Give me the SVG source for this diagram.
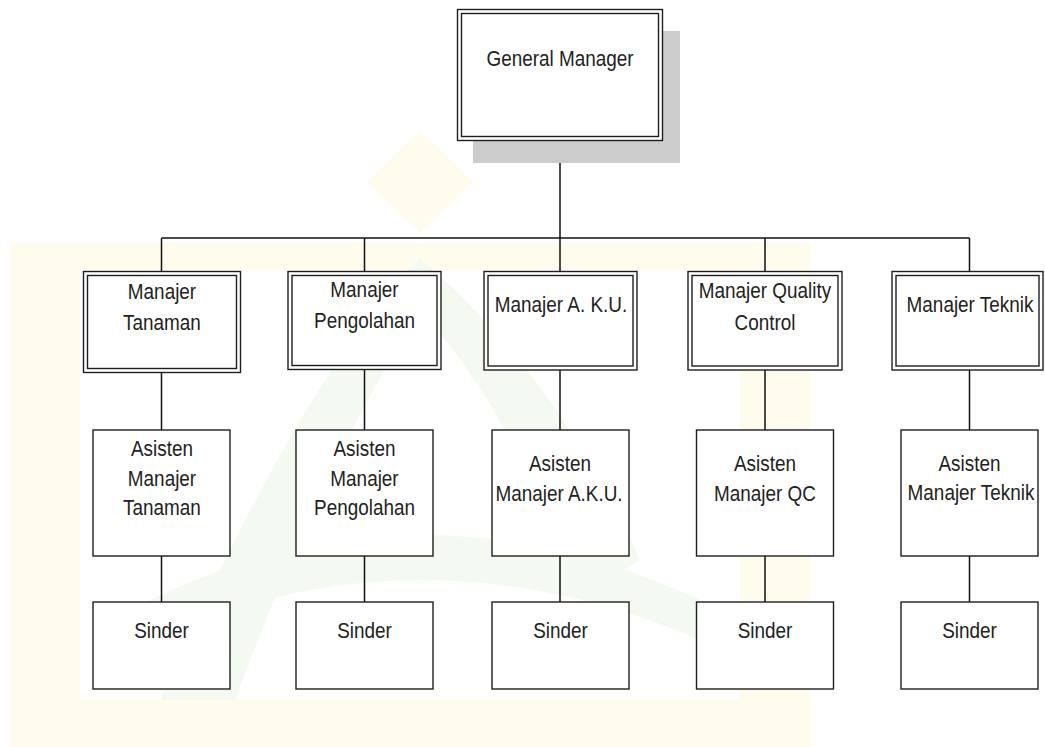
<svg xmlns="http://www.w3.org/2000/svg" width="1045" height="747" viewBox="0 0 1045 747">
<style>
.bx{fill:#fff;stroke:#1e1e1e;stroke-width:1.4}
.in{fill:none;stroke:#1e1e1e;stroke-width:1.4}
.t{font-family:"Liberation Sans",Arial,sans-serif;font-size:22px;fill:#222;text-anchor:middle}
.con{stroke:#111;stroke-width:1.5;fill:none}
.wy{fill:#fffcee}
.wg{fill:#f4f9f1}
</style>
<rect width="1045" height="747" fill="#fff"/>
<g id="watermark">
<path class="wy" d="M10,243H810V747H10Z M80,270V700H740V270Z" fill-rule="evenodd"/>
<polygon class="wy" points="420,131 473,182 420,233 367,182"/>
<path class="wg" d="M420,258 Q300,380 160,700 L235,700 Q320,470 420,310 Q520,420 575,600 L640,560 Q560,380 420,258Z"/>
<path class="wg" d="M150,600 Q420,470 700,600 L700,640 Q420,520 150,640Z"/>
</g>
<g id="connectors">
<line class="con" x1="560" y1="141" x2="560" y2="238"/>
<line class="con" x1="161.5" y1="238" x2="969.5" y2="238"/>
<line class="con" x1="161.5" y1="238" x2="161.5" y2="272"/>
<line class="con" x1="364.5" y1="238" x2="364.5" y2="272"/>
<line class="con" x1="560" y1="238" x2="560" y2="272"/>
<line class="con" x1="765" y1="238" x2="765" y2="272"/>
<line class="con" x1="969.5" y1="238" x2="969.5" y2="272"/>
<line class="con" x1="161.5" y1="372" x2="161.5" y2="430"/>
<line class="con" x1="364.5" y1="369" x2="364.5" y2="430"/>
<line class="con" x1="560" y1="370" x2="560" y2="430"/>
<line class="con" x1="765" y1="370" x2="765" y2="430"/>
<line class="con" x1="969.5" y1="370" x2="969.5" y2="430"/>
<line class="con" x1="161.5" y1="556" x2="161.5" y2="602"/>
<line class="con" x1="364.5" y1="556" x2="364.5" y2="602"/>
<line class="con" x1="560" y1="556" x2="560" y2="602"/>
<line class="con" x1="765" y1="556" x2="765" y2="602"/>
<line class="con" x1="969.5" y1="556" x2="969.5" y2="602"/>
</g>
<g id="gm">
<rect x="473" y="31" width="207" height="132" fill="#cccccc"/>
<rect class="bx" x="457.5" y="9.5" width="205" height="131"/>
<rect class="in" x="461.5" y="13.5" width="197" height="123"/>
<text class="t" transform="translate(560 66) scale(0.86 1)">General Manager</text>
</g>
<g id="mgr-tanaman">
<rect class="bx" x="83.5" y="271.5" width="157" height="101"/>
<rect class="in" x="87.5" y="275.5" width="149" height="93"/>
<text class="t" transform="translate(162 299) scale(0.86 1)">Manajer</text>
<text class="t" transform="translate(162 330) scale(0.86 1)">Tanaman</text>
</g>
<g id="mgr-pengolahan">
<rect class="bx" x="288" y="271.5" width="153" height="98"/>
<rect class="in" x="292" y="275.5" width="145" height="90"/>
<text class="t" transform="translate(364.5 297) scale(0.86 1)">Manajer</text>
<text class="t" transform="translate(364.5 328) scale(0.86 1)">Pengolahan</text>
</g>
<g id="mgr-aku">
<rect class="bx" x="484" y="271.5" width="153" height="98.5"/>
<rect class="in" x="488" y="275.5" width="145" height="90.5"/>
<text class="t" transform="translate(561 312) scale(0.86 1)">Manajer A. K.U.</text>
</g>
<g id="mgr-qc">
<rect class="bx" x="688" y="271.5" width="154" height="98.5"/>
<rect class="in" x="692" y="275.5" width="146" height="90.5"/>
<text class="t" transform="translate(765 298) scale(0.86 1)">Manajer Quality</text>
<text class="t" transform="translate(765 329.5) scale(0.86 1)">Control</text>
</g>
<g id="mgr-teknik">
<rect class="bx" x="892" y="271.5" width="151" height="98.5"/>
<rect class="in" x="896" y="275.5" width="143" height="90.5"/>
<text class="t" transform="translate(970 312) scale(0.86 1)">Manajer Teknik</text>
</g>
<g id="ast-tanaman">
<rect class="bx" x="93" y="430" width="137" height="126"/>
<text class="t" transform="translate(162 456) scale(0.86 1)">Asisten</text>
<text class="t" transform="translate(162 486) scale(0.86 1)">Manajer</text>
<text class="t" transform="translate(162 515) scale(0.86 1)">Tanaman</text>
</g>
<g id="ast-pengolahan">
<rect class="bx" x="296" y="430" width="137" height="126"/>
<text class="t" transform="translate(364.5 456) scale(0.86 1)">Asisten</text>
<text class="t" transform="translate(364.5 486) scale(0.86 1)">Manajer</text>
<text class="t" transform="translate(364.5 515) scale(0.86 1)">Pengolahan</text>
</g>
<g id="ast-aku">
<rect class="bx" x="492" y="430" width="137" height="126"/>
<text class="t" transform="translate(560 471) scale(0.86 1)">Asisten</text>
<text class="t" transform="translate(559 501) scale(0.86 1)">Manajer A.K.U.</text>
</g>
<g id="ast-qc">
<rect class="bx" x="696.5" y="430" width="137" height="126"/>
<text class="t" transform="translate(765 471) scale(0.86 1)">Asisten</text>
<text class="t" transform="translate(765 501) scale(0.86 1)">Manajer QC</text>
</g>
<g id="ast-teknik">
<rect class="bx" x="901" y="430" width="137" height="126"/>
<text class="t" transform="translate(969.5 471) scale(0.86 1)">Asisten</text>
<text class="t" transform="translate(971 500) scale(0.86 1)">Manajer Teknik</text>
</g>
<g id="sinder-1"><rect class="bx" x="93" y="602" width="137" height="87"/><text class="t" transform="translate(161.5 638) scale(0.86 1)">Sinder</text></g>
<g id="sinder-2"><rect class="bx" x="296" y="602" width="137" height="87"/><text class="t" transform="translate(364.5 638) scale(0.86 1)">Sinder</text></g>
<g id="sinder-3"><rect class="bx" x="492" y="602" width="137" height="87"/><text class="t" transform="translate(560.5 638) scale(0.86 1)">Sinder</text></g>
<g id="sinder-4"><rect class="bx" x="696.5" y="602" width="137" height="87"/><text class="t" transform="translate(765 638) scale(0.86 1)">Sinder</text></g>
<g id="sinder-5"><rect class="bx" x="901" y="602" width="137" height="87"/><text class="t" transform="translate(969.5 638) scale(0.86 1)">Sinder</text></g>
</svg>
